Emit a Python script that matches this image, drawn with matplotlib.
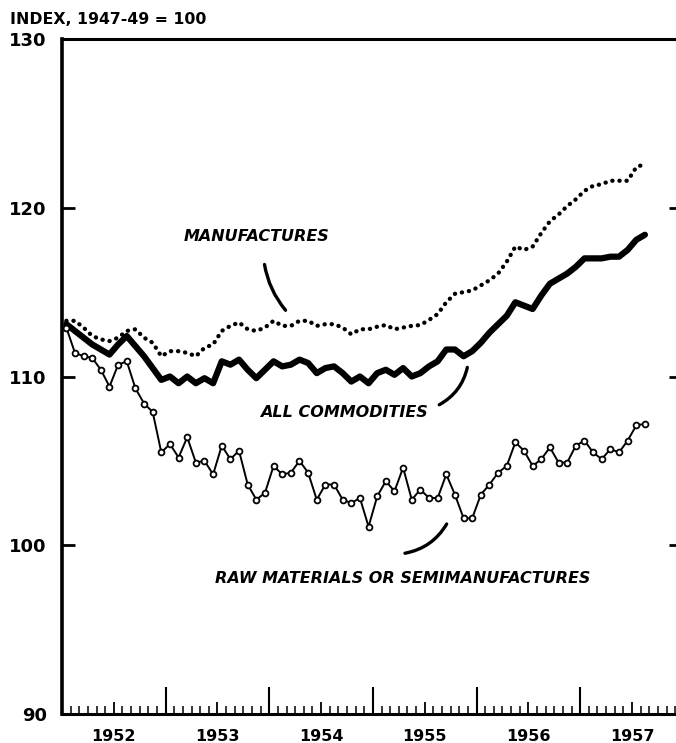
import numpy as np
import pandas as pd
import matplotlib.pyplot as plt
from matplotlib.patches import FancyArrowPatch

plt.rcParams['font.family'] = 'DejaVu Sans'

# monthly wholesale price indexes, Jan 1952 - Aug 1957 (1947-49 = 100)
months = pd.period_range('1952-01', '1957-08', freq='M')

all_commodities = [113.1, 112.7, 112.3, 111.9, 111.6, 111.3, 111.9, 112.4, 111.8, 111.2, 110.5, 109.8,
                   110.0, 109.6, 110.0, 109.6, 109.9, 109.6, 110.9, 110.7, 111.0, 110.4, 109.9, 110.4,
                   110.9, 110.6, 110.7, 111.0, 110.8, 110.2, 110.5, 110.6, 110.2, 109.7, 110.0, 109.6,
                   110.2, 110.4, 110.1, 110.5, 110.0, 110.2, 110.6, 110.9, 111.6, 111.6, 111.2, 111.5,
                   112.0, 112.6, 113.1, 113.6, 114.4, 114.2, 114.0, 114.8, 115.5, 115.8, 116.1, 116.5,
                   117.0, 117.0, 117.0, 117.1, 117.1, 117.5, 118.1, 118.4]

manufactures = [113.3, 113.3, 112.9, 112.4, 112.2, 112.1, 112.3, 112.7, 112.8, 112.3, 112.0, 111.2,
                111.5, 111.5, 111.4, 111.2, 111.7, 111.9, 112.7, 113.0, 113.2, 112.8, 112.7, 112.9,
                113.3, 113.0, 113.0, 113.3, 113.3, 113.0, 113.1, 113.1, 112.9, 112.5, 112.8, 112.8,
                112.95, 113.05, 112.8, 112.9, 113.0, 113.05, 113.35, 113.7, 114.4, 114.9, 115.0, 115.1,
                115.4, 115.7, 116.1, 116.8, 117.7, 117.5, 117.7, 118.5, 119.2, 119.6, 120.1, 120.5,
                121.0, 121.3, 121.4, 121.6, 121.6, 121.6, 122.4, 122.6]

raw_materials = [112.9, 111.4, 111.2, 111.1, 110.4, 109.4, 110.7, 110.9, 109.3, 108.4, 107.9, 105.5,
                 106.0, 105.2, 106.4, 104.9, 105.0, 104.2, 105.9, 105.1, 105.6, 103.6, 102.7, 103.1,
                 104.7, 104.2, 104.3, 105.0, 104.3, 102.7, 103.6, 103.6, 102.7, 102.5, 102.8, 101.1,
                 102.9, 103.8, 103.2, 104.6, 102.7, 103.3, 102.8, 102.8, 104.2, 103.0, 101.6, 101.6,
                 103.0, 103.6, 104.3, 104.7, 106.1, 105.6, 104.7, 105.1, 105.8, 104.9, 104.9, 105.9,
                 106.2, 105.5, 105.1, 105.7, 105.5, 106.2, 107.1, 107.2]

years = [1952, 1953, 1954, 1955, 1956, 1957]
y_ticks = [90, 100, 110, 120, 130]

x = np.arange(len(months)) + 0.5  # plot each month in the middle of its slot

fig = plt.figure(figsize=(6.76, 7.43), dpi=100)
ax = fig.add_axes([62 / 676, 29 / 743, 614 / 676, 675 / 743])

ax.plot(x, manufactures, color='black', linewidth=3.1, linestyle=(0, (0.05, 1.6)),
        dash_capstyle='round', solid_capstyle='round')
ax.plot(x, all_commodities, color='black', linewidth=4.5, solid_joinstyle='round',
        solid_capstyle='round')
ax.plot(x, raw_materials, color='black', linewidth=1.4, marker='o', markersize=4.2,
        markerfacecolor='white', markeredgewidth=1.3, zorder=3)

ax.set_xlim(0, 71.1)
ax.set_ylim(90, 130)

# x axis: month ticks, mid-year ticks with labels, tall ticks at year boundaries
ax.set_xticks([12 * i + 6 for i in range(len(years))], [str(y) for y in years])
ax.set_xticks(np.arange(1, 72), minor=True)
ax.tick_params(axis='x', which='major', direction='in', length=9, width=1.3, pad=11,
               labelsize=11.5)
ax.tick_params(axis='x', which='minor', direction='in', length=5.5, width=1.1)
ax.vlines([12 * i for i in range(1, len(years))], 0, 27 / 675, transform=ax.get_xaxis_transform(),
          color='black', linewidth=1.5)
for lab in ax.get_xticklabels():
    lab.set_fontweight('bold')

ax.set_yticks(y_ticks, [str(v) for v in y_ticks])
ax.tick_params(axis='y', direction='in', length=9, width=2, pad=11, labelsize=13)
for lab in ax.get_yticklabels():
    lab.set_fontweight('bold')

sec = ax.secondary_yaxis('right')
sec.set_yticks([100, 110, 120])
sec.tick_params(direction='in', length=5, width=2, labelright=False)
sec.spines['right'].set_visible(False)

ax.spines['right'].set_visible(False)
ax.spines['left'].set_linewidth(2.6)
ax.spines['top'].set_linewidth(2.2)
ax.spines['bottom'].set_linewidth(2.2)

fig.text(10 / 676, 1 - 19 / 743, 'INDEX, 1947-49 = 100', fontsize=11.3, fontweight='bold',
         ha='left', va='center')

lab_style = dict(fontsize=11.5, fontweight='bold', fontstyle='italic', ha='center', va='center')
ax.text(22.5, 118.3, 'MANUFACTURES', **lab_style)
ax.text(32.7, 107.85, 'ALL COMMODITIES', **lab_style)
ax.text(39.4, 98.05, 'RAW MATERIALS OR SEMIMANUFACTURES', **lab_style)

# curved leader lines
for p0, p1, rad, lw in [((23.4, 116.8), (26.1, 113.8), 0.15, 2.4),
                        ((43.4, 108.25), (47.0, 110.7), 0.25, 2.4),
                        ((39.4, 99.5), (44.7, 101.4), 0.25, 2.4)]:
    ax.add_patch(FancyArrowPatch(p0, p1, arrowstyle='-', connectionstyle=f'arc3,rad={rad}',
                                 linewidth=lw, color='black'))

fig.savefig('out.png', dpi=100)
